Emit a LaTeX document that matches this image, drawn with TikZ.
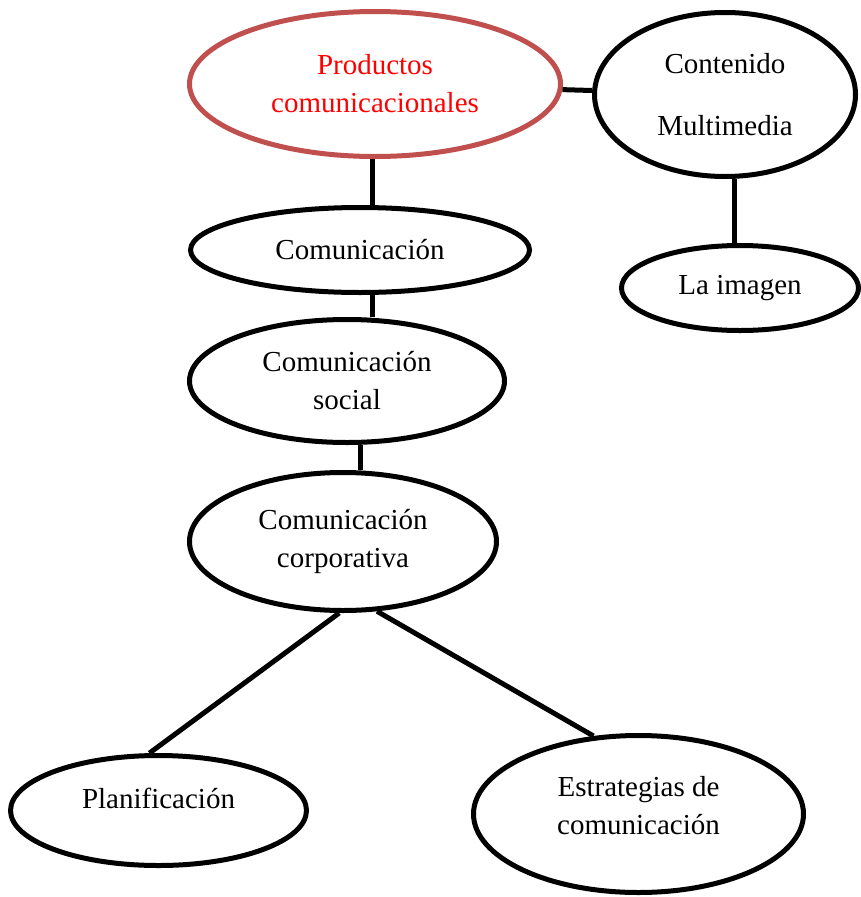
\documentclass[tikz,border=0pt]{standalone}
\usepackage{fontspec}
\setmainfont{Liberation Serif}
\usetikzlibrary{positioning, shapes}
\definecolor{accent}{RGB}{192, 80, 77}
\definecolor{titlered}{RGB}{255, 0, 0}

\begin{document}
\begin{tikzpicture}[
        node distance=30pt,
        bubble/.style={ellipse, draw, line width=5pt, fill=white, inner sep=0pt, align=center, font=\fontsize{29pt}{38pt}\selectfont},
        link/.style={line width=5pt}
    ]
        \useasboundingbox (0,0) rectangle (860pt,-897pt);

        \node[bubble, draw=accent, text=titlered, minimum width=371pt, minimum height=145pt] (prod) at (375pt,-84pt) {Productos\\comunicacionales};
        \node[bubble, minimum width=261pt, minimum height=164pt, right=29pt of prod, yshift=-10.5pt] (cont) {Contenido\\[24pt]Multimedia};
        \node[bubble, minimum width=237pt, minimum height=85pt, below=64pt of cont, xshift=15pt] (img) {La imagen};
        \node[bubble, minimum width=339pt, minimum height=85pt, below=46pt of prod, xshift=-15pt] (com) {Comunicación};
        \node[bubble, minimum width=315pt, minimum height=123pt, below=22pt of com, xshift=-13pt] (soc) {Comunicación\\social};
        \node[bubble, minimum width=307pt, minimum height=138pt, below=25pt of soc, xshift=-4pt] (corp) {Comunicación\\corporativa};
        \node[bubble, minimum width=296pt, minimum height=110pt, below=140pt of corp, xshift=-184.5pt, text depth=24pt] (plan) {Planificación};
        \node[bubble, minimum width=330pt, minimum height=157pt, below=120pt of corp, xshift=295.5pt, text depth=18pt] (estr) {Estrategias de\\comunicación};

        \draw[link] (prod) -- (cont);
        \draw[link] ([xshift=-3pt]prod.south) -- ([xshift=-3pt]prod.south |- com.north);
        \draw[link] ([xshift=9pt]cont.south) -- ([xshift=9pt]cont.south |- img.north);
        \draw[link] ([xshift=12pt]com.south) -- ([xshift=12pt]com.south |- soc.north);
        \draw[link] ([xshift=13pt]soc.south) -- ([xshift=13pt]soc.south |- corp.north);
        \draw[link] (corp.-93) -- (plan.99);
        \draw[link] (corp.-64) -- (estr.120);
    \end{tikzpicture}
\end{document}
